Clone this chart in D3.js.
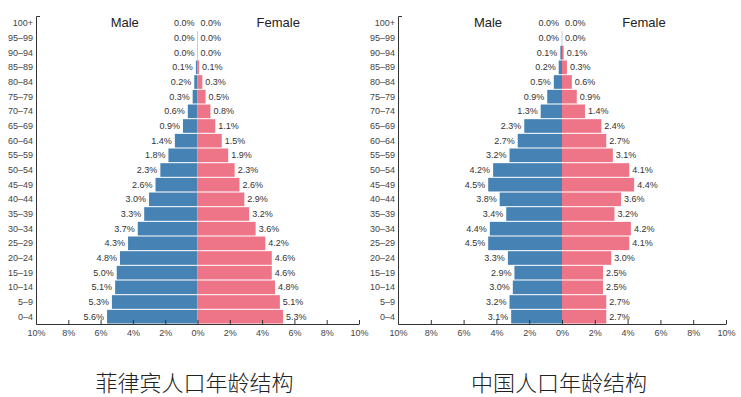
<!doctype html>
<html lang="zh">
<head>
  <meta charset="utf-8">
  <title>人口年龄结构</title>
</head>
<style>
html, body, svg {
    margin: 0;
    padding: 0;
    border: 0;
    background: #fff;
}
</style>
<body>
  <svg id="chart" width="741" height="397"></svg>
</body>
<script src="https://d3js.org/d3.v7.min.js"></script>
<script type="text/javascript">
    // age groups, top to bottom
    var ageGroups = ["100+","95-99","90-94","85-89","80-84","75-79","70-74","65-69","60-64",
      "55-59","50-54","45-49","40-44","35-39","30-34","25-29","20-24","15-19","10-14","5-9","0-4"];

    var phMale   = [0.0,0.0,0.0,0.1,0.2,0.3,0.6,0.9,1.4,1.8,2.3,2.6,3.0,3.3,3.7,4.3,4.8,5.0,5.1,5.3,5.6];
    var phFemale = [0.0,0.0,0.0,0.1,0.3,0.5,0.8,1.1,1.5,1.9,2.3,2.6,2.9,3.2,3.6,4.2,4.6,4.6,4.8,5.1,5.3];

    var cnMale   = [0.0,0.0,0.1,0.2,0.5,0.9,1.3,2.3,2.7,3.2,4.2,4.5,3.8,3.4,4.4,4.5,3.3,2.9,3.0,3.2,3.1];
    var cnFemale = [0.0,0.0,0.1,0.3,0.6,0.9,1.4,2.4,2.7,3.1,4.1,4.4,3.6,3.2,4.2,4.1,3.0,2.5,2.5,2.7,2.7];

    var xTicks = [10, 8, 6, 4, 2, 0, 2, 4, 6, 8, 10];
    var titles = ["菲律宾人口年龄结构", "中国人口年龄结构"];

    var svg = d3.select("#chart");
    var maleColor = "#4682b4";
    var femaleColor = "#ee7587";
    var font = "Helvetica, Arial, 'Liberation Sans', sans-serif";

    function pyramid(left, right, male, female, title) {
      var top = 16, bottom = 324;
      var mid = (left + right) / 2;
      var g = svg.append("g");

      var y = d3.scaleBand().domain(ageGroups).range([top, bottom]).paddingInner(0.07).paddingOuter(0.035);
      var xm = d3.scaleLinear().domain([10, 0]).range([left, mid]);
      var xf = d3.scaleLinear().domain([0, 10]).range([mid, right]);

      var rows = ageGroups.map(function(a, i) {
        return {age: a, m: male[i], f: female[i]};
      });

      // thin line at 0 where rows round to zero
      g.append("line")
        .attr("x1", mid).attr("x2", mid)
        .attr("y1", y(ageGroups[1])).attr("y2", y(ageGroups[3]))
        .attr("stroke", "#ccc").attr("stroke-width", 1);

      g.selectAll("rect.m").data(rows).enter().append("rect")
        .attr("x", function(d) { return xm(d.m); })
        .attr("y", function(d) { return y(d.age); })
        .attr("width", function(d) { return mid - xm(d.m); })
        .attr("height", y.bandwidth())
        .attr("fill", maleColor);

      g.selectAll("rect.f").data(rows).enter().append("rect")
        .attr("x", mid)
        .attr("y", function(d) { return y(d.age); })
        .attr("width", function(d) { return xf(d.f) - mid; })
        .attr("height", y.bandwidth())
        .attr("fill", femaleColor);

      g.selectAll("text.m").data(rows).enter().append("text")
        .attr("x", function(d) { return xm(d.m) - 3; })
        .attr("y", function(d) { return y(d.age) + y.bandwidth() / 2; })
        .attr("dy", "0.35em")
        .attr("text-anchor", "end")
        .style("font", "9px " + font)
        .attr("fill", "#333")
        .text(function(d) { return d.m.toFixed(1) + "%"; });

      g.selectAll("text.f").data(rows).enter().append("text")
        .attr("x", function(d) { return xf(d.f) + 3; })
        .attr("y", function(d) { return y(d.age) + y.bandwidth() / 2; })
        .attr("dy", "0.35em")
        .style("font", "9px " + font)
        .attr("fill", "#333")
        .text(function(d) { return d.f.toFixed(1) + "%"; });

      // y axis
      var yAxis = g.append("g")
        .attr("transform", "translate(" + left + ",0)")
        .call(d3.axisLeft(y).tickSizeInner(0).tickSizeOuter(-4).tickPadding(3)
          .tickFormat(function(d) { return d.replace("-", "–"); }));
      yAxis.selectAll("text").style("font", "9px " + font).attr("fill", "#444");
      yAxis.select(".domain").attr("stroke", "#333");

      // x axis, one scale over the full width
      var xAll = d3.scaleLinear().domain([0, xTicks.length - 1]).range([left, right]);
      var xAxis = g.append("g")
        .attr("transform", "translate(0," + bottom + ")")
        .call(d3.axisBottom(xAll).ticks(xTicks.length).tickSizeInner(-4).tickSizeOuter(0).tickPadding(6)
          .tickFormat(function(d, i) { return xTicks[i] + "%"; }));
      xAxis.selectAll("text").style("font", "9px " + font).attr("fill", "#444");
      xAxis.selectAll("line, .domain").attr("stroke", "#333");

      g.append("text")
        .attr("x", (left + mid) / 2 + 8)
        .attr("y", 27)
        .attr("text-anchor", "middle")
        .style("font", "13px " + font)
        .attr("fill", "#222")
        .text("Male");
      g.append("text")
        .attr("x", (mid + right) / 2)
        .attr("y", 27)
        .attr("text-anchor", "middle")
        .style("font", "13px " + font)
        .attr("fill", "#222")
        .text("Female");

      g.append("text")
        .attr("x", mid - 3)
        .attr("y", 391)
        .attr("text-anchor", "middle")
        .style("font", "300 22px 'Noto Sans CJK SC', sans-serif")
        .attr("fill", "#222")
        .text(title);
    }

    pyramid(36, 359, phMale, phFemale, titles[0]);
    pyramid(398, 726, cnMale, cnFemale, titles[1]);
</script>
</html>
